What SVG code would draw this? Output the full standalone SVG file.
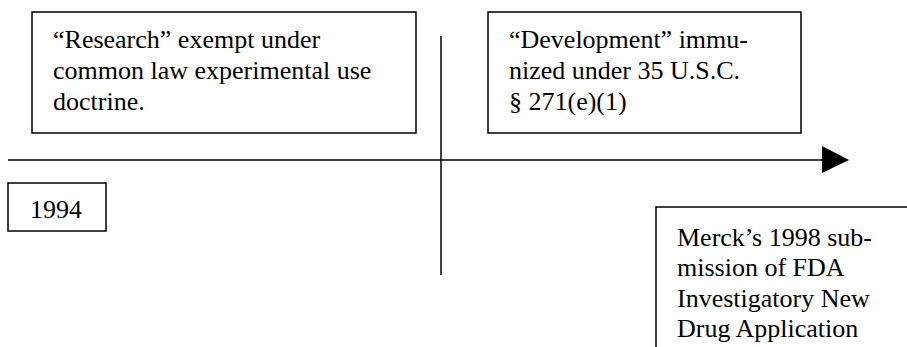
<svg xmlns="http://www.w3.org/2000/svg" width="907" height="347" viewBox="0 0 907 347">
<style>
.box{fill:#fff;stroke:#000;stroke-width:1.5}
.ln{stroke:#000;stroke-width:1.5;fill:none}
.t{font-family:'Liberation Serif', Tinos, 'Times New Roman', Times, serif;font-size:26px;fill:#000}
</style>
<rect width="907" height="347" fill="#fff"/>
<g id="connectors">
<line class="ln" x1="8" y1="160" x2="823" y2="160"/>
<polygon points="822,146 849,160 822,173" fill="#000"/>
<line class="ln" x1="441" y1="36" x2="441" y2="275"/>
</g>
<g id="research">
<rect class="box" x="32" y="12" width="384" height="121"/>
<text class="t" x="53" y="48">“Research” exempt under</text>
<text class="t" x="53" y="79">common law experimental use</text>
<text class="t" x="53" y="110">doctrine.</text>
</g>
<g id="development">
<rect class="box" x="488" y="12" width="313" height="121"/>
<text class="t" x="509" y="48">“Development” immu-</text>
<text class="t" x="509" y="79">nized under 35 U.S.C.</text>
<text class="t" x="509" y="110">§ 271(e)(1)</text>
</g>
<g id="y1994">
<rect class="box" x="8" y="183" width="98" height="48"/>
<text class="t" x="30" y="218">1994</text>
</g>
<g id="merck">
<rect class="box" x="656" y="207" width="260" height="150"/>
<text class="t" x="677" y="246">Merck’s 1998 sub-</text>
<text class="t" x="677" y="276">mission of FDA</text>
<text class="t" x="677" y="307">Investigatory New</text>
<text class="t" x="677" y="337">Drug Application</text>
</g>
</svg>
